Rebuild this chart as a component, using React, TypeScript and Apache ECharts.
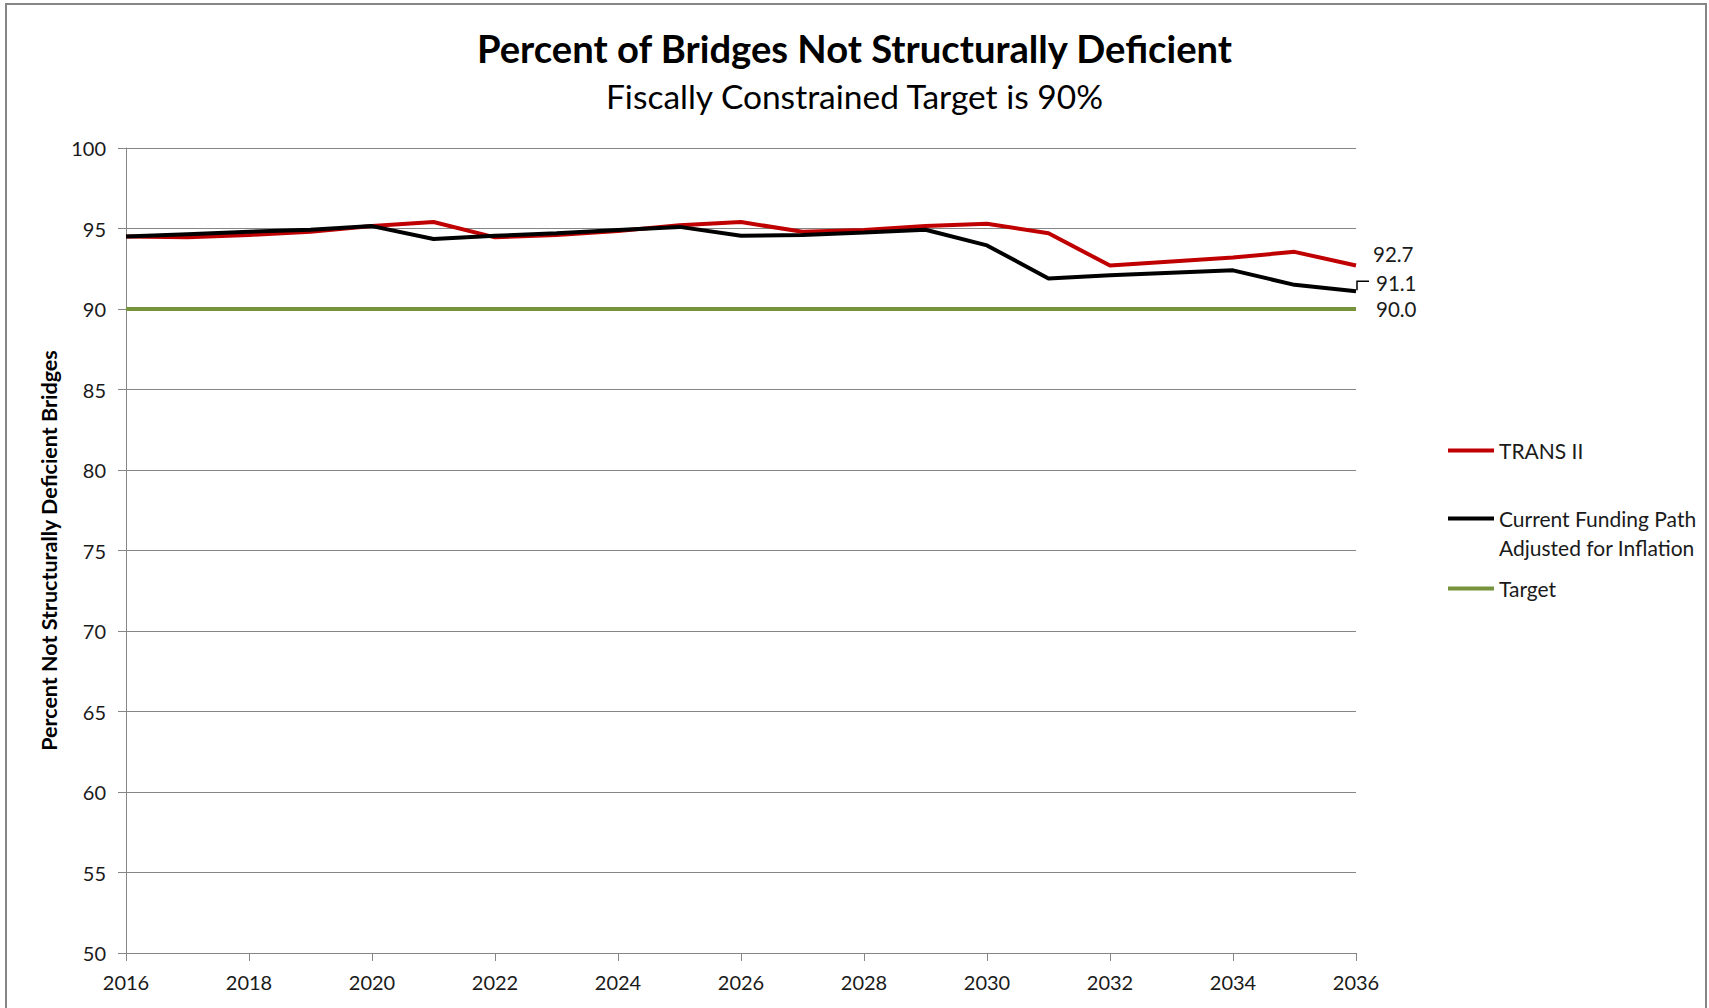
import React, { useEffect, useRef } from "react";
import * as echarts from "echarts";

// Years on the horizontal axis
const years = [
  2016, 2017, 2018, 2019, 2020, 2021, 2022, 2023, 2024, 2025, 2026,
  2027, 2028, 2029, 2030, 2031, 2032, 2033, 2034, 2035, 2036,
];

// Percent of bridges not structurally deficient, per scenario
const transII = [
  94.5, 94.45, 94.6, 94.8, 95.15, 95.4, 94.45, 94.6, 94.85, 95.2, 95.4,
  94.8, 94.9, 95.15, 95.3, 94.7, 92.7, 92.95, 93.2, 93.55, 92.7,
];
const currentPath = [
  94.5, 94.65, 94.8, 94.92, 95.15, 94.35, 94.55, 94.7, 94.9, 95.1, 94.55,
  94.6, 94.75, 94.92, 93.95, 91.9, 92.1, 92.25, 92.4, 91.5, 91.1,
];
const target = [
  90, 90, 90, 90, 90, 90, 90, 90, 90, 90, 90,
  90, 90, 90, 90, 90, 90, 90, 90, 90, 90,
];

const seriesNames = [
  "TRANS II",
  "Current Funding Path Adjusted for Inflation",
  "Target",
];
const yTicks = { min: 50, max: 100, step: 5 };
const xTicks = { min: 2016, max: 2036, step: 2 };

const titleText = "Percent of Bridges Not Structurally Deficient";
const subtitleText = "Fiscally Constrained Target is 90%";
const yAxisTitle = "Percent Not Structurally Deficient Bridges";

const FONT = "Lato";
const RED = "#C00000";
const BLACK = "#000000";
const GREEN = "#77933C";
const GRID_GRAY = "#868686";
const TEXT = "#1a1a1a";

const pairs = (vals: number[]) => years.map((y, i) => [y, vals[i]]);

export default function App() {
  const ref = useRef<HTMLDivElement>(null);

  useEffect(() => {
    document.body.style.margin = "0";
    if (!ref.current) return;
    const chart = echarts.init(ref.current, null, { renderer: "svg" });

    const lineSeries = (
      name: string,
      vals: number[],
      color: string,
      offset: number[],
      z: number
    ) => ({
      name,
      type: "line",
      data: pairs(vals),
      showSymbol: false,
      symbol: "none",
      z,
      lineStyle: { color, width: 4 },
      itemStyle: { color },
      endLabel: {
        show: true,
        distance: 5,
        offset,
        formatter: (p: any) => Number(p.value[1]).toFixed(1),
        fontFamily: FONT,
        fontSize: 20.5,
        color: TEXT,
      },
      emphasis: { disabled: true },
    });

    const legendBase = {
      orient: "vertical",
      left: 1448,
      icon: "rect",
      itemWidth: 46,
      itemHeight: 4,
      padding: 0,
      selectedMode: false,
      textStyle: { fontFamily: FONT, fontSize: 21, color: TEXT },
    };

    chart.setOption({
      animation: false,
      backgroundColor: "#ffffff",
      textStyle: { fontFamily: FONT },
      title: [
        {
          text: titleText,
          left: "center",
          top: 29,
          padding: 0,
          textStyle: {
            fontFamily: FONT,
            fontSize: 38.2,
            fontWeight: "bold",
            color: "#000",
          },
        },
        {
          text: subtitleText,
          left: "center",
          top: 79,
          padding: 0,
          textStyle: {
            fontFamily: FONT,
            fontSize: 33.5,
            fontWeight: "normal",
            color: "#000",
          },
        },
      ],
      grid: { left: 126, right: 353, top: 148, bottom: 55 },
      xAxis: {
        type: "value",
        min: xTicks.min,
        max: xTicks.max,
        interval: xTicks.step,
        axisLine: { show: true, lineStyle: { color: GRID_GRAY, width: 1 } },
        axisTick: {
          show: true,
          length: 8,
          lineStyle: { color: GRID_GRAY, width: 1 },
        },
        splitLine: { show: false },
        axisLabel: {
          formatter: (v: number) => String(v),
          fontFamily: FONT,
          fontSize: 20,
          color: TEXT,
          margin: 19,
        },
      },
      yAxis: {
        type: "value",
        min: yTicks.min,
        max: yTicks.max,
        interval: yTicks.step,
        name: yAxisTitle,
        nameLocation: "middle",
        nameGap: 64,
        nameTextStyle: {
          fontFamily: FONT,
          fontSize: 21.5,
          fontWeight: "bold",
          color: "#000",
        },
        axisLine: { show: true, lineStyle: { color: GRID_GRAY, width: 1 } },
        axisTick: {
          show: true,
          length: 8,
          lineStyle: { color: GRID_GRAY, width: 1 },
        },
        splitLine: { show: true, lineStyle: { color: GRID_GRAY, width: 1 } },
        axisLabel: {
          fontFamily: FONT,
          fontSize: 20,
          color: TEXT,
          margin: 20,
        },
      },
      legend: [
        { ...legendBase, data: [seriesNames[0]], top: 440 },
        {
          ...legendBase,
          data: [seriesNames[1]],
          top: 508,
          formatter: () => "Current Funding Path",
        },
        { ...legendBase, data: [seriesNames[2]], top: 578 },
      ],
      series: [
        lineSeries(seriesNames[0], transII, RED, [12, -12], 3),
        lineSeries(seriesNames[1], currentPath, BLACK, [15, -8], 4),
        lineSeries(seriesNames[2], target, GREEN, [15, 0], 2),
      ],
      graphic: {
        elements: [
          {
            id: "frame",
            type: "rect",
            shape: { x: 6, y: 4, width: 1700, height: 1030 },
            style: { fill: "none", stroke: GRID_GRAY, lineWidth: 2 },
            silent: true,
          },
          {
            id: "legend-second-line",
            type: "text",
            x: 1499,
            y: 547,
            style: {
              text: "Adjusted for Inflation",
              fontFamily: FONT,
              fontSize: 21,
              fill: TEXT,
              verticalAlign: "middle",
              align: "left",
            },
            silent: true,
          },
        ],
      },
    });

    // Small leader from the end of the funding-path line to its value label
    const last = years.length - 1;
    const end = chart.convertToPixel({ xAxisIndex: 0, yAxisIndex: 0 }, [
      years[last],
      currentPath[last],
    ]) as number[];
    if (end) {
      chart.setOption({
        graphic: {
          elements: [
            {
              id: "leader",
              type: "polyline",
              shape: {
                points: [
                  [end[0] + 1, end[1] - 1],
                  [end[0] + 1, end[1] - 10],
                  [end[0] + 13, end[1] - 10],
                ],
              },
              style: { stroke: BLACK, lineWidth: 1.5, fill: "none" },
              silent: true,
              z: 10,
            },
          ],
        },
      });
    }

    return () => chart.dispose();
  }, []);

  return (
    <div
      ref={ref}
      style={{
        position: "fixed",
        left: 0,
        top: 0,
        width: "1709px",
        height: "1008px",
      }}
    />
  );
}
